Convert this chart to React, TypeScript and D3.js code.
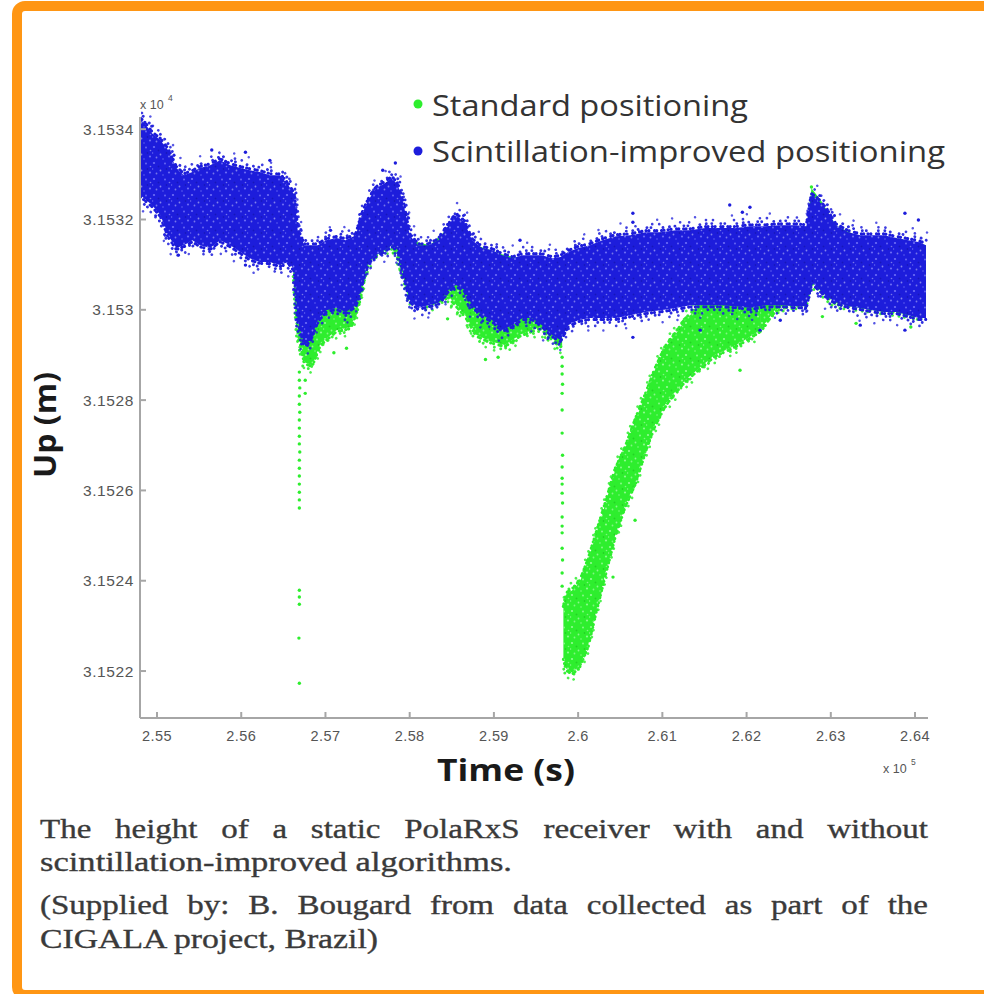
import React, { useMemo } from 'react';
import * as d3 from 'd3';

// ---------- data (time in s, height in m) ----------
const X_TICKS = [255000, 256000, 257000, 258000, 259000, 260000, 261000, 262000, 263000, 264000];
const Y_TICKS = [31522, 31524, 31526, 31528, 31530, 31532, 31534];

// [time, upper edge, lower edge] of the dense scintillation-improved cloud
const BLUE_BAND: [number, number, number][] = [
  [254800, 31534.22, 31532.54], [254870, 31534.09, 31532.43], [254940, 31533.91, 31532.32],
  [255040, 31533.76, 31532.10], [255130, 31533.54, 31531.65], [255230, 31533.14, 31531.37],
  [255320, 31532.98, 31531.43], [255420, 31533.05, 31531.54], [255510, 31533.14, 31531.43],
  [255630, 31533.20, 31531.37], [255750, 31533.31, 31531.54], [255870, 31533.20, 31531.43],
  [255990, 31533.14, 31531.28], [256100, 31533.09, 31531.14], [256220, 31533.05, 31531.06],
  [256340, 31532.98, 31531.06], [256460, 31532.98, 31530.99], [256560, 31532.76, 31531.06],
  [256630, 31532.54, 31530.88], [256670, 31531.76, 31529.77], [256750, 31531.43, 31529.22],
  [256820, 31531.43, 31529.33], [256910, 31531.43, 31529.77], [257010, 31531.54, 31529.99],
  [257130, 31531.59, 31530.04], [257240, 31531.54, 31529.95], [257360, 31531.65, 31530.10],
  [257430, 31532.10, 31530.55], [257510, 31532.43, 31531.06], [257600, 31532.69, 31531.21],
  [257700, 31532.80, 31531.32], [257790, 31532.92, 31531.43], [257860, 31532.76, 31531.32],
  [257930, 31532.32, 31530.77], [258000, 31531.65, 31530.21], [258100, 31531.43, 31530.04],
  [258220, 31531.43, 31530.10], [258340, 31531.54, 31530.15], [258460, 31531.87, 31530.44],
  [258550, 31532.10, 31530.55], [258650, 31531.94, 31530.44], [258740, 31531.54, 31530.10],
  [258860, 31531.37, 31529.88], [258980, 31531.32, 31529.77], [259100, 31531.21, 31529.55],
  [259220, 31531.14, 31529.66], [259340, 31531.21, 31529.82], [259450, 31531.21, 31529.82],
  [259570, 31531.21, 31529.66], [259690, 31531.14, 31529.44], [259790, 31531.17, 31529.33],
  [259880, 31531.28, 31529.66], [260000, 31531.37, 31529.77], [260140, 31531.43, 31529.82],
  [260290, 31531.54, 31529.82], [260450, 31531.63, 31529.82], [260620, 31531.65, 31529.88],
  [260800, 31531.72, 31529.95], [260980, 31531.72, 31529.99], [261160, 31531.76, 31530.04],
  [261330, 31531.76, 31530.10], [261510, 31531.81, 31530.10], [261690, 31531.81, 31530.10],
  [261870, 31531.81, 31530.08], [262040, 31531.85, 31530.04], [262220, 31531.85, 31530.10],
  [262400, 31531.87, 31530.10], [262580, 31531.87, 31530.08], [262710, 31531.85, 31530.08],
  [262770, 31532.54, 31530.61], [262850, 31532.43, 31530.48], [262950, 31532.21, 31530.30],
  [263060, 31531.87, 31530.17], [263210, 31531.72, 31530.08], [263350, 31531.65, 31530.04],
  [263490, 31531.65, 31529.99], [263630, 31531.65, 31529.95], [263780, 31531.59, 31529.95],
  [263920, 31531.54, 31529.88], [264040, 31531.50, 31529.82], [264130, 31531.43, 31529.82],
];

// standard positioning cloud where it shows under the blue one, before the big dip
const GREEN_BAND_A: [number, number, number][] = [
  [256630, 31532.45, 31531.00], [256670, 31531.60, 31529.55], [256750, 31531.30, 31528.84],
  [256840, 31531.20, 31528.78], [256940, 31531.30, 31529.25], [257130, 31531.43, 31529.55],
  [257300, 31531.43, 31529.62], [257390, 31531.54, 31530.08], [257510, 31532.32, 31531.10],
  [257790, 31532.85, 31531.50], [257930, 31532.21, 31530.85], [258000, 31531.54, 31530.30],
  [258240, 31531.43, 31530.15], [258460, 31531.81, 31530.30], [258580, 31531.87, 31530.05],
  [258670, 31531.65, 31529.85], [258790, 31531.43, 31529.45], [258960, 31531.32, 31529.30],
  [259130, 31531.21, 31529.22], [259310, 31531.14, 31529.45], [259550, 31531.14, 31529.62],
  [259730, 31531.10, 31529.30], [259810, 31531.06, 31529.20],
];

// the large dip and slow recovery
const GREEN_DIP: [number, number, number][] = [
  [259825, 31523.40, 31522.30], [259860, 31523.70, 31522.05], [259930, 31523.79, 31521.96],
  [260020, 31523.97, 31522.13], [260120, 31524.46, 31522.58], [260210, 31525.01, 31523.31],
  [260320, 31525.68, 31524.13], [260440, 31526.45, 31525.01], [260560, 31526.94, 31525.68],
  [260680, 31527.56, 31526.18], [260800, 31528.11, 31526.89], [260910, 31528.66, 31527.45],
  [261030, 31529.15, 31527.89], [261150, 31529.44, 31528.18], [261270, 31529.77, 31528.44],
  [261450, 31530.10, 31528.73], [261620, 31530.37, 31529.00], [261800, 31530.59, 31529.15],
  [261980, 31530.77, 31529.33], [262160, 31530.99, 31529.55],
];

const GREEN_TAIL: [number, number, number][] = [
  [262160, 31530.99, 31529.55], [262340, 31531.54, 31530.00], [262520, 31531.72, 31530.12],
  [262710, 31531.76, 31530.12], [262770, 31532.69, 31530.62], [262880, 31532.43, 31530.45],
  [263060, 31531.87, 31530.15], [263350, 31531.59, 31530.08], [263780, 31531.59, 31529.97],
  [264130, 31531.43, 31529.86],
];

// sparse standard-positioning points during the two sudden drops
const GREEN_POINTS: [number, number][] = [
  [256690, 31528.62], [256690, 31528.44], [256695, 31528.27], [256690, 31528.09], [256690, 31527.91],
  [256695, 31527.73], [256690, 31527.56], [256690, 31527.38], [256690, 31527.20], [256690, 31527.03],
  [256695, 31526.85], [256690, 31526.67], [256690, 31526.49], [256690, 31526.32], [256690, 31526.14],
  [256690, 31525.96], [256690, 31525.79], [256690, 31525.61], [256690, 31523.79], [256690, 31523.64],
  [256690, 31523.48], [256685, 31522.73], [256690, 31521.73], [256760, 31528.89], [256760, 31528.44],
  [256760, 31528.15],
  [259810, 31528.95], [259810, 31528.75], [259810, 31528.58], [259815, 31528.35], [259810, 31528.15],
  [259810, 31527.78], [259810, 31527.27], [259815, 31526.78], [259810, 31526.52], [259810, 31526.27],
  [259810, 31526.14], [259810, 31525.94], [259815, 31525.72], [259810, 31525.41], [259810, 31525.21],
  [259810, 31525.06], [259810, 31524.72], [259815, 31524.46], [259810, 31524.17], [259810, 31523.88],
  [262770, 31532.72], [260676, 31525.34], [260414, 31524.08], [260497, 31526.67], [261922, 31528.66],
  [258900, 31528.90], [259050, 31528.95], [258450, 31529.80], [257100, 31529.05], [257250, 31529.15],
  [254880, 31533.95], [255050, 31533.60], [263300, 31529.70], [263950, 31529.62], [262900, 31529.85],
];

const BLUE_POINTS: [number, number][] = [
  [257830, 31533.25], [257680, 31533.09], [257060, 31531.76], [260650, 31532.14], [260650, 31531.94],
  [261800, 31532.32], [261950, 31532.16], [262040, 31532.27], [263880, 31532.14], [264040, 31531.99],
  [260650, 31529.39], [259310, 31531.54], [255250, 31531.21], [256050, 31530.99], [261450, 31529.55],
  [262160, 31529.55], [262400, 31529.77], [263350, 31529.66], [263880, 31529.55], [255650, 31533.54],
  [256050, 31533.49], [256340, 31533.31],
];

const LEGEND_LABELS = ['Standard positioning', 'Scintillation-improved positioning'];
const CAPTION_LINES = [
  'The height of a static PolaRxS receiver with and without',
  'scintillation-improved algorithms.',
  '(Supplied by: B. Bougard from data collected as part of the',
  'CIGALA project, Brazil)',
];

// ---------- styling ----------
const BLUE = '#1d1ddb';
const GREEN = '#2eee2e';
const ORANGE = '#FF9614';

const x = d3.scaleLinear().domain([254798, 264154]).range([140, 928]);
const y = d3.scaleLinear().domain([31520.96, 31534.27]).range([718, 117]);

const fmtX = (v: number) => String(+(v / 1e5).toFixed(3));
const fmtY = (v: number) => String(+(v / 1e4).toFixed(4));

type Row = [number, number, number];

// irregular dot rhythms for the fuzzy cloud edges (style only)
const FRINGE = [
  { off: 1.5, w: 3.2, dash: '0.01 2.4 0.01 4.2 0.01 2.9 0.01 5.6 0.01 2.2 0.01 4.8', op: 1 },
  { off: 4.5, w: 2.9, dash: '0.01 5.5 0.01 9 0.01 4 0.01 12 0.01 6.5', op: 0.92 },
  { off: 8, w: 2.7, dash: '0.01 9 0.01 17 0.01 7 0.01 21', op: 0.85 },
  { off: 12.5, w: 2.5, dash: '0.01 23 0.01 37 0.01 15', op: 0.75 },
];

function Band({ data, color, pat, topFringe, bottomFringe, depth = 4 }: { data: Row[]; color: string; pat: string; topFringe: boolean; bottomFringe: boolean; depth?: number }) {
  const area = d3.area<Row>().x(d => x(d[0])).y0(d => y(d[2])).y1(d => y(d[1]));
  const top = d3.line<Row>().x(d => x(d[0])).y(d => y(d[1]));
  const bot = d3.line<Row>().x(d => x(d[0])).y(d => y(d[2]));
  const t = top(data) || '', b = bot(data) || '';
  const layers = FRINGE.slice(0, depth);
  return (
    <g>
      {topFringe && layers.map((f, i) => (
        <path key={'t' + i} d={t} fill="none" stroke={color} strokeWidth={f.w} strokeDasharray={f.dash}
          strokeDashoffset={i * 3.3} strokeLinecap="round" opacity={f.op} transform={`translate(${i % 2 ? 1.5 : 0},${-f.off})`} />
      ))}
      {bottomFringe && layers.map((f, i) => (
        <path key={'b' + i} d={b} fill="none" stroke={color} strokeWidth={f.w} strokeDasharray={f.dash}
          strokeDashoffset={i * 5.1 + 2} strokeLinecap="round" opacity={f.op} transform={`translate(${i % 2 ? -1.5 : 0},${f.off})`} />
      ))}
      <path d={area(data) || ''} fill={color} />
      <path d={area(data) || ''} fill={`url(#${pat})`} />
    </g>
  );
}

function measureWidth(text: string, font: string): number {
  try {
    const ctx = document.createElement('canvas').getContext('2d');
    if (ctx) { ctx.font = font; return ctx.measureText(text).width; }
  } catch (e) { /* ignore */ }
  return text.length * 12;
}

export default function App() {
  const capFont = 27.5;
  const capFontStr = `${capFont}px "Liberation Serif"`;
  const capLeft = 40, capRight = 928;
  const capY = [838, 871, 914, 948];
  const capJustify = [true, false, true, false];
  const capWidths = [888, 472, 888, 338];
  const sx = 1.2;

  const captionEls = useMemo(() => {
    return CAPTION_LINES.map((line, i) => {
      if (!capJustify[i]) {
        return (
          <text key={i} x={capLeft} y={capY[i]} textLength={capWidths[i]} lengthAdjust="spacingAndGlyphs">{line}</text>
        );
      }
      const words = line.split(' ');
      const ws = words.map(w => measureWidth(w, capFontStr) * sx);
      const sum = ws.reduce((a, b) => a + b, 0);
      const gap = (capRight - capLeft - sum) / (words.length - 1);
      let cx = capLeft;
      return (
        <g key={i}>
          {words.map((w, j) => {
            const el = <text key={j} x={cx} y={capY[i]} textLength={ws[j]} lengthAdjust="spacingAndGlyphs">{w}</text>;
            cx += ws[j] + gap;
            return el;
          })}
        </g>
      );
    });
  }, []);

  const r = 1.7;

  const speck = (id: string, light: string, dark: string) => (
    <pattern id={id} width={19} height={16} patternUnits="userSpaceOnUse">
      <circle cx={2} cy={3} r={1.1} fill={light} opacity={0.75} />
      <circle cx={8.5} cy={10.5} r={0.9} fill="#ffffff" opacity={0.45} />
      <circle cx={13} cy={3.5} r={1} fill={light} opacity={0.65} />
      <circle cx={17} cy={12.5} r={1.1} fill={light} opacity={0.7} />
      <circle cx={4.5} cy={13.5} r={0.9} fill="#ffffff" opacity={0.4} />
      <circle cx={11} cy={15} r={0.8} fill={light} opacity={0.6} />
      <circle cx={17.5} cy={6.5} r={0.8} fill="#ffffff" opacity={0.4} />
      <circle cx={6.5} cy={6.5} r={1} fill={dark} opacity={0.5} />
      <circle cx={14.5} cy={9} r={0.9} fill={dark} opacity={0.5} />
      <circle cx={0.5} cy={9} r={0.8} fill={light} opacity={0.6} />
    </pattern>
  );

  return (
    <svg width={984} height={994} style={{ position: 'absolute', left: 0, top: 0, background: '#fff' }}
      xmlns="http://www.w3.org/2000/svg">
      <defs>
        {speck('texB', '#8a8aff', '#10109a')}
        {speck('texG', '#b6ffb6', '#18b818')}
        <clipPath id="plotClip">
          <rect x={141} y={100} width={800} height={617} />
        </clipPath>
      </defs>

      <rect x={0} y={0} width={984} height={994} fill="#fff" />
      <rect x={17} y={6} width={1000} height={989} rx={8} fill="none" stroke={ORANGE} strokeWidth={10} />

      {/* data */}
      <g clipPath="url(#plotClip)">
        <Band data={GREEN_BAND_A} color={GREEN} pat="texG" topFringe={false} bottomFringe={true} depth={3} />
        <Band data={GREEN_DIP} color={GREEN} pat="texG" topFringe={true} bottomFringe={true} depth={3} />
        <Band data={GREEN_TAIL} color={GREEN} pat="texG" topFringe={false} bottomFringe={true} depth={2} />
        {GREEN_POINTS.map((p, i) => (
          <circle key={'g' + i} cx={x(p[0])} cy={y(p[1])} r={r} fill={GREEN} />
        ))}
        <Band data={BLUE_BAND} color={BLUE} pat="texB" topFringe={true} bottomFringe={true} />
        {BLUE_POINTS.map((p, i) => (
          <circle key={'b' + i} cx={x(p[0])} cy={y(p[1])} r={r} fill={BLUE} />
        ))}
      </g>

      {/* axes */}
      <g stroke="#a6a6a6" strokeWidth={2} fill="none">
        <line x1={140} y1={117} x2={140} y2={718} />
        <line x1={140} y1={718} x2={928} y2={718} />
        {Y_TICKS.map(v => <line key={v} x1={140} x2={146} y1={y(v)} y2={y(v)} />)}
        {X_TICKS.map(v => <line key={v} x1={x(v)} x2={x(v)} y1={718} y2={712} />)}
      </g>
      <g fontFamily='"Liberation Sans", Arial, sans-serif' fill="#555">
        {Y_TICKS.map(v => (
          <text key={v} x={134} y={y(v) + 5.5} fontSize={15.5} textAnchor="end" letterSpacing={0.6}>{fmtY(v)}</text>
        ))}
        {X_TICKS.map(v => (
          <text key={v} x={x(v)} y={741} fontSize={14.5} textAnchor="middle" letterSpacing={0.4}>{fmtX(v)}</text>
        ))}
        <text x={140} y={109} fontSize={12.5}>x 10</text>
        <text x={168} y={101} fontSize={8.5}>4</text>
        <text x={883} y={773} fontSize={12.5}>x 10</text>
        <text x={911} y={765} fontSize={8.5}>5</text>
      </g>

      {/* titles */}
      <text x={506} y={781} fontFamily='"Open Sans", sans-serif' fontWeight={700} fontSize={30} fill="#1a1a1a"
        textAnchor="middle" textLength={138} lengthAdjust="spacingAndGlyphs">Time (s)</text>
      <text transform="translate(56,425) rotate(-90)" fontFamily='"Open Sans", sans-serif' fontWeight={700} fontSize={30}
        fill="#1a1a1a" textAnchor="middle" textLength={106} lengthAdjust="spacingAndGlyphs">Up (m)</text>

      {/* legend */}
      <g fontFamily='"Open Sans", sans-serif' fontSize={30} fill="#333">
        <circle cx={418} cy={104} r={4.5} fill={GREEN} />
        <text x={432} y={116} textLength={316} lengthAdjust="spacingAndGlyphs">{LEGEND_LABELS[0]}</text>
        <circle cx={418} cy={151} r={4.5} fill={BLUE} />
        <text x={432} y={162} textLength={513} lengthAdjust="spacingAndGlyphs">{LEGEND_LABELS[1]}</text>
      </g>

      {/* caption */}
      <g fontFamily='"Liberation Serif", "Times New Roman", serif' fontSize={capFont} fill="#3a3a3a"
        stroke="#3a3a3a" strokeWidth={0.35}>
        {captionEls}
      </g>
    </svg>
  );
}
